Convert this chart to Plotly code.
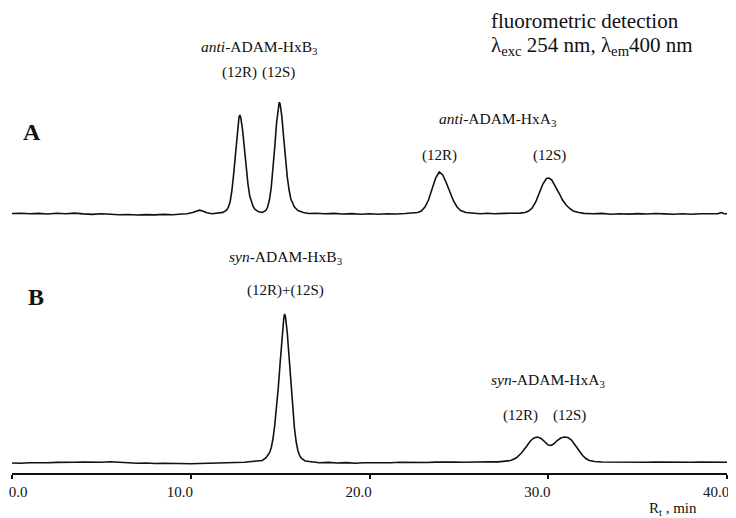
import plotly.graph_objects as go

# ---- data (retention time in min, detector signal above baseline, arbitrary units) ----
time_a = [0.0, 0.5, 1.0, 1.5, 2.0, 2.5, 3.0, 3.5, 4.0, 4.5, 5.0, 5.5, 6.0, 6.5, 7.0, 7.5,
          8.0, 8.5, 9.0, 9.5, 9.8, 10.1, 10.3, 10.5, 10.7, 10.9, 11.2, 11.5, 11.8, 12.0,
          12.1, 12.2, 12.3, 12.4, 12.5, 12.6, 12.7, 12.75, 12.8, 12.9, 13.0, 13.1, 13.2,
          13.3, 13.4, 13.5, 13.6, 13.8, 14.0, 14.2, 14.3, 14.4, 14.5, 14.6, 14.7, 14.8,
          14.9, 14.95, 15.0, 15.1, 15.2, 15.3, 15.4, 15.5, 15.6, 15.8, 16.0, 16.3, 16.6,
          17.0, 17.5, 18.0, 18.5, 19.0, 19.5, 20.0, 20.5, 21.0, 21.5, 22.0, 22.4, 22.7,
          22.9, 23.1, 23.3, 23.5, 23.7, 23.9, 24.1, 24.3, 24.5, 24.7, 24.9, 25.1, 25.4,
          25.8, 26.2, 26.6, 27.0, 27.5, 28.0, 28.4, 28.7, 28.9, 29.1, 29.3, 29.5, 29.7,
          29.9, 30.05, 30.2, 30.4, 30.6, 30.8, 31.0, 31.2, 31.4, 31.7, 32.0, 32.5, 33.0,
          33.5, 34.0, 34.5, 35.0, 35.5, 36.0, 36.5, 37.0, 37.5, 38.0, 38.5, 39.0, 39.5,
          39.7, 39.85, 40.0]
signal_a = [0.5, 0.8, 0.2, 0.6, 0.0, 0.7, 0.3, 0.9, 0.1, -0.4, 0.2, -0.3, -0.8, -0.5, -1.0, -0.6,
            -0.9, -0.4, -0.7, 0.0, 0.3, 1.5, 3.0, 3.8, 2.8, 1.2, 0.3, 0.8, 1.6, 3.8,
            6.5, 12, 23, 40, 60, 82, 97, 99, 96, 84, 64, 45, 30,
            18, 11, 7, 4.5, 2.2, 1.5, 3.5, 7, 14, 26, 44, 67, 91,
            108, 112, 110, 97, 76, 55, 37, 24, 15, 7, 3.5, 1.5, 0.5,
            0.8, 0.2, 0.6, 0.0, 0.4, -0.3, 0.2, -0.2, 0.3, 0.0, 0.5, 0.8, 1.5,
            3, 7, 14, 25, 36, 42, 39, 31, 21, 13, 7, 3.5, 1.5,
            0.8, 0.3, 0.7, 0.2, 0.6, 0.4, 0.9, 1.5, 3, 6, 12, 21, 30,
            35.5, 36, 34, 28, 21, 14, 9, 5.5, 3, 1.5, 0.6, 0.2, 0.6,
            -0.2, 0.3, -0.1, 0.4, 0.0, 0.5, 0.1, -0.3, 0.2, -0.2, 0.3, 0.0, 0.4,
            1.5, 0.3, 0.2]

time_b = [0.0, 0.5, 1.0, 1.5, 2.0, 2.5, 3.0, 3.5, 4.0, 4.5, 5.0, 5.5, 6.0, 6.5, 7.0, 7.5,
          8.0, 8.5, 9.0, 9.5, 10.0, 10.5, 11.0, 11.5, 12.0, 12.5, 13.0, 13.4, 13.7, 14.0,
          14.2, 14.4, 14.5, 14.6, 14.7, 14.8, 14.9, 15.0, 15.1, 15.2, 15.25, 15.3, 15.4,
          15.5, 15.6, 15.7, 15.8, 15.9, 16.0, 16.1, 16.2, 16.4, 16.8, 17.2, 17.7, 18.2,
          18.7, 19.2, 19.7, 20.2, 20.7, 21.2, 21.7, 22.2, 22.7, 23.2, 23.7, 24.2, 24.7,
          25.2, 25.7, 26.2, 26.7, 27.2, 27.6, 27.9, 28.2, 28.5, 28.8, 29.0, 29.2, 29.4,
          29.6, 29.8, 30.0, 30.15, 30.3, 30.5, 30.7, 30.9, 31.1, 31.3, 31.5, 31.7, 31.9,
          32.1, 32.3, 32.6, 33.0, 33.5, 34.0, 34.5, 35.0, 35.5, 36.0, 36.5, 37.0, 37.5,
          38.0, 38.5, 39.0, 39.5, 40.0]
signal_b = [0.0, -0.3, 0.2, -0.1, 0.3, 0.6, 1.0, 0.7, 0.9, 0.5, 0.8, 1.2, 0.6, 0.1, -0.3, 0.0,
            -0.5, -0.2, -0.6, -0.4, -0.8, -0.5, -0.3, 0.0, 0.2, 0.4, 0.8, 1.5, 1.8, 2.5,
            5, 10, 15, 24, 38, 56, 76, 100, 125, 144, 149, 146, 130,
            105, 78, 54, 35, 21, 12, 7, 4.5, 2, 0.8, 0.3, 0.6, 0.0,
            0.4, -0.2, 0.3, 0.1, 0.5, 0.2, 0.7, 0.4, 0.8, 0.5, 0.9, 0.6, 1.0,
            0.8, 1.2, 0.9, 1.3, 1.1, 1.5, 2.5, 5, 10, 17, 22, 25, 26,
            24.5, 21, 18, 17.5, 19, 22.5, 25, 26, 25.5, 23, 18.5, 13, 8,
            4.5, 2.5, 1.5, 1.0, 0.8, 1.0, 0.6, 0.9, 0.7, 1.0, 0.8, 0.6, 0.9,
            0.7, 1.0, 0.8, 0.9, 0.7]

tick_vals = [0, 10, 20, 30, 40]
tick_text = ["0.0", "10.0", "20.0", "30.0", "40.0"]

# ---- layout geometry (page is shown with an 8 px body margin) ----
W, H = 736, 518
OFF = 8
ML, MR, MT, MB = 4, 17, 0, 52
PW, PH = W - ML - MR, H - MT - MB


def P(xp, yp):
    """target page pixel -> paper coordinates"""
    fx, fy = xp - OFF, yp - OFF
    return (fx - ML) / PW, (H - MB - fy) / PH


def dom(top_px, bottom_px):
    return [P(0, bottom_px)[1], P(0, top_px)[1]]


SERIF = "Liberation Serif"
INK = "#111111"
TICKFONT = dict(family=SERIF, size=15, color=INK)

fig = go.Figure()
# trace A lives on the overlaying x axis (same range and domain as the main one)
fig.add_trace(go.Scatter(x=time_a, y=signal_a, mode="lines", xaxis="x2", yaxis="y",
                         line=dict(color=INK, width=1.6), hoverinfo="skip", showlegend=False))
fig.add_trace(go.Scatter(x=time_b, y=signal_b, mode="lines", xaxis="x", yaxis="y2",
                         line=dict(color=INK, width=1.6), hoverinfo="skip", showlegend=False))

annotations = []


def label(text, xp, yp, size, xanchor="center", bold=False):
    x, y = P(xp, yp)
    annotations.append(dict(text=f"<b>{text}</b>" if bold else text, x=x, y=y,
                            xref="paper", yref="paper", xanchor=xanchor, yanchor="middle",
                            showarrow=False, font=dict(family=SERIF, size=size, color=INK)))


label("fluorometric detection", 489, 21, 21, xanchor="left")
label("λ<sub>exc</sub> 254 nm, λ<sub>em</sub>400 nm", 489, 46, 21, xanchor="left")
label("<i>anti</i>-ADAM-HxB<sub>3</sub>", 259, 47, 15.5)
label("(12R)", 239, 72, 15)
label("(12S)", 278, 72, 15)
label("A", 32, 132, 24, bold=True)
label("<i>anti</i>-ADAM-HxA<sub>3</sub>", 497, 119, 15.5)
label("(12R)", 439, 155, 15)
label("(12S)", 549, 155, 15)
label("<i>syn</i>-ADAM-HxB<sub>3</sub>", 285, 257, 15.5)
label("(12R)+(12S)", 285, 290, 15)
label("B", 36, 297, 24, bold=True)
label("<i>syn</i>-ADAM-HxA<sub>3</sub>", 548, 380, 15.5)
label("(12R)", 520, 415, 15)
label("(12S)", 569, 415, 15)
label("R<sub>t</sub> , min", 647, 509, 15, xanchor="left")

# main axis: line, all ticks, labels 10.0 ... 40.0 (nudged left as in the print);
# the overlaying axis carries the "0.0" label, nudged right so it stays on the page
main_text = [""] + tick_text[1:]

common_x = dict(range=[0, 40], anchor="free", position=0, automargin=False,
                showgrid=False, zeroline=False, tickfont=TICKFONT,
                ticklabeloverflow="allow")

fig.update_layout(
    width=W, height=H,
    margin=dict(l=ML, r=MR, t=MT, b=MB, autoexpand=False),
    paper_bgcolor="white", plot_bgcolor="white",
    xaxis=dict(**common_x, tickvals=tick_vals, ticktext=main_text,
               showline=True, linecolor=INK, linewidth=2,
               ticks="outside", ticklen=4, tickwidth=1.5, tickcolor=INK,
               ticklabelshift=-11),
    xaxis2=dict(**common_x, overlaying="x", tickvals=tick_vals[:1], ticktext=tick_text[:1],
                showline=False, ticks="outside", ticklen=4, tickcolor="rgba(0,0,0,0)",
                ticklabelshift=6),
    yaxis=dict(domain=dom(90, 250), range=[-36, 124], automargin=False,
               visible=False, showgrid=False, zeroline=False),
    yaxis2=dict(domain=dom(300, 474), range=[-11, 163], anchor="x", automargin=False,
                visible=False, showgrid=False, zeroline=False),
    annotations=annotations,
)

fig.write_html("out.html")
